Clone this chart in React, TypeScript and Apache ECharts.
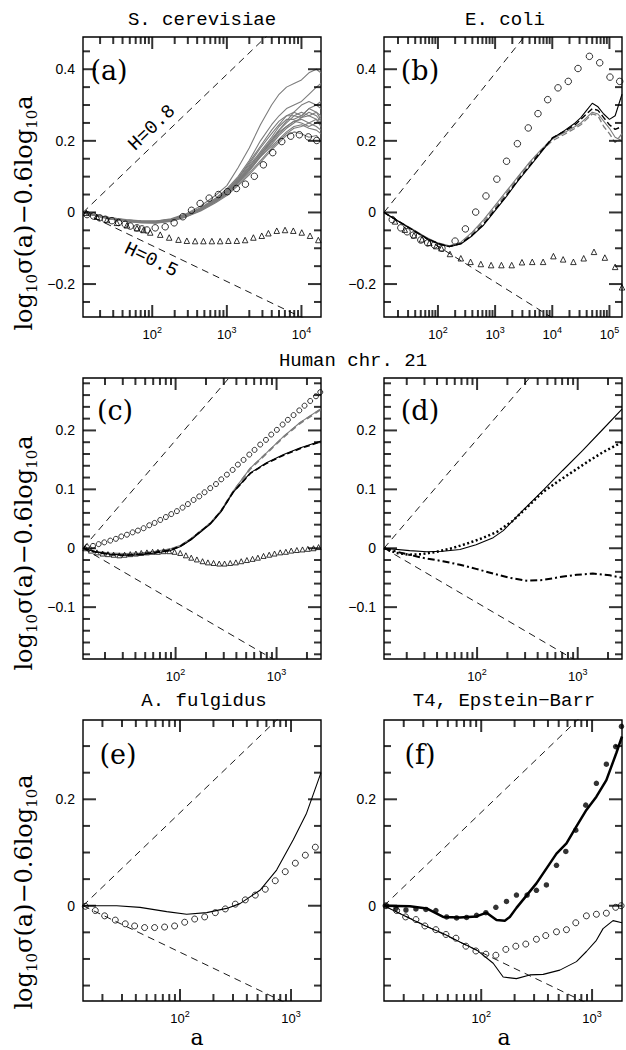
import React, { useEffect, useRef } from 'react';
import * as echarts from 'echarts';

// ---------------- layout ----------------
const GRIDS = [
  { left: 83, top: 37, width: 238, height: 280 },
  { left: 384, top: 37, width: 238, height: 280 },
  { left: 83, top: 378, width: 238, height: 281 },
  { left: 384, top: 378, width: 238, height: 281 },
  { left: 83, top: 720, width: 238, height: 281 },
  { left: 384, top: 720, width: 238, height: 281 },
];

// x axes are log10(a)
const X_RANGES = [[1.072, 4.262], [1.056, 5.22], [1.083, 3.44], [1.075, 3.44], [1.126, 3.27], [1.123, 3.27]];
const Y_RANGES = [[-0.292, 0.49], [-0.292, 0.49], [-0.188, 0.289], [-0.188, 0.289], [-0.179, 0.349], [-0.179, 0.349]];
const Y_MAJOR = [[-0.2, 0, 0.2, 0.4], [-0.2, 0, 0.2, 0.4], [-0.1, 0, 0.1, 0.2], [-0.1, 0, 0.1, 0.2], [0, 0.2], [0, 0.2]];
const Y_MINOR_STEP = [0.05, 0.05, 0.02, 0.02, 0.05, 0.05];

const PANEL_TITLES = ['S. cerevisiae', 'E. coli', 'Human chr. 21', 'A. fulgidus', 'T4, Epstein\u2212Barr'];
const PANEL_LETTERS = ['(a)', '(b)', '(c)', '(d)', '(e)', '(f)'];
const HURST = [0.8, 0.5];

// ---------------- data: [log10 a, log10 sigma - 0.6 log10 a] ----------------
// (a) S. cerevisiae chromosomes (grey)
const xGridA = [1.072, 1.25, 1.45, 1.65, 1.85, 2.05, 2.25, 2.45, 2.65, 2.85, 3.0, 3.15, 3.3, 3.45, 3.6, 3.7, 3.8, 3.9, 4.0, 4.1, 4.2, 4.26];
const chromA = [
  [0, -0.008, -0.016, -0.021, -0.024, -0.024, -0.018, -0.004, 0.018, 0.048, 0.075, 0.125, 0.18, 0.245, 0.3, 0.33, 0.35, 0.36, 0.37, 0.39, 0.4, 0.39],
  [0, -0.009, -0.017, -0.023, -0.026, -0.026, -0.02, -0.006, 0.013, 0.04, 0.066, 0.1, 0.145, 0.2, 0.245, 0.27, 0.29, 0.3, 0.31, 0.33, 0.35, 0.36],
  [0, -0.008, -0.015, -0.02, -0.023, -0.024, -0.019, -0.007, 0.012, 0.038, 0.062, 0.095, 0.135, 0.18, 0.22, 0.245, 0.27, 0.28, 0.27, 0.29, 0.3, 0.31],
  [0, -0.01, -0.018, -0.024, -0.027, -0.028, -0.022, -0.01, 0.008, 0.032, 0.056, 0.088, 0.125, 0.165, 0.205, 0.23, 0.25, 0.27, 0.28, 0.27, 0.28, 0.27],
  [0, -0.009, -0.016, -0.022, -0.025, -0.026, -0.021, -0.008, 0.01, 0.036, 0.06, 0.092, 0.13, 0.17, 0.21, 0.24, 0.26, 0.26, 0.27, 0.29, 0.28, 0.26],
  [0, -0.008, -0.015, -0.021, -0.024, -0.025, -0.02, -0.008, 0.01, 0.035, 0.058, 0.09, 0.125, 0.165, 0.2, 0.225, 0.24, 0.255, 0.26, 0.25, 0.26, 0.25],
  [0, -0.01, -0.019, -0.025, -0.028, -0.029, -0.024, -0.012, 0.006, 0.03, 0.052, 0.082, 0.115, 0.155, 0.19, 0.215, 0.235, 0.25, 0.265, 0.27, 0.26, 0.24],
  [0, -0.009, -0.017, -0.023, -0.026, -0.027, -0.022, -0.01, 0.008, 0.033, 0.055, 0.085, 0.12, 0.16, 0.195, 0.22, 0.24, 0.255, 0.25, 0.24, 0.25, 0.27],
  [0, -0.008, -0.016, -0.022, -0.025, -0.026, -0.021, -0.009, 0.009, 0.034, 0.057, 0.087, 0.12, 0.155, 0.185, 0.205, 0.225, 0.24, 0.245, 0.235, 0.23, 0.22],
  [0, -0.009, -0.018, -0.024, -0.027, -0.028, -0.023, -0.011, 0.006, 0.03, 0.05, 0.078, 0.11, 0.145, 0.18, 0.2, 0.22, 0.235, 0.24, 0.25, 0.24, 0.23],
  [0, -0.01, -0.019, -0.025, -0.029, -0.03, -0.025, -0.013, 0.004, 0.027, 0.047, 0.075, 0.105, 0.14, 0.175, 0.195, 0.215, 0.225, 0.22, 0.21, 0.215, 0.2],
  [0, -0.008, -0.016, -0.022, -0.026, -0.027, -0.022, -0.01, 0.008, 0.032, 0.054, 0.084, 0.118, 0.158, 0.2, 0.23, 0.255, 0.28, 0.3, 0.31, 0.3, 0.29],
  [0, -0.009, -0.017, -0.023, -0.026, -0.026, -0.02, -0.007, 0.012, 0.038, 0.062, 0.095, 0.14, 0.185, 0.23, 0.255, 0.27, 0.27, 0.265, 0.28, 0.27, 0.255],
];
const circlesA = [[1.126, -0.006], [1.214, -0.01], [1.294, -0.015], [1.37, -0.019], [1.46, -0.023], [1.548, -0.028], [1.638, -0.033], [1.705, -0.038], [1.795, -0.043], [1.862, -0.046], [1.929, -0.049], [2.04, -0.043], [2.174, -0.04], [2.294, -0.029], [2.411, -0.012], [2.526, 0.006], [2.642, 0.025], [2.763, 0.04], [2.887, 0.05], [3.008, 0.058], [3.128, 0.067], [3.249, 0.079], [3.369, 0.101], [3.49, 0.133], [3.615, 0.167], [3.736, 0.198], [3.856, 0.213], [3.972, 0.217], [4.092, 0.211], [4.205, 0.201]];
const trianglesA = [[1.116, -0.001], [1.259, -0.012], [1.393, -0.021], [1.527, -0.029], [1.661, -0.036], [1.795, -0.044], [1.883, -0.049], [1.973, -0.056], [2.107, -0.062], [2.227, -0.07], [2.352, -0.076], [2.464, -0.079], [2.575, -0.08], [2.686, -0.08], [2.799, -0.08], [2.91, -0.08], [3.021, -0.079], [3.134, -0.079], [3.245, -0.077], [3.356, -0.07], [3.468, -0.065], [3.557, -0.058], [3.669, -0.051], [3.78, -0.049], [3.891, -0.051], [4.004, -0.056], [4.115, -0.065], [4.226, -0.077]];

// (b) E. coli
const xGridB = [1.056, 1.3, 1.55, 1.8, 2.0, 2.2, 2.4, 2.6, 2.8, 3.0, 3.2, 3.4, 3.6, 3.8, 4.0, 4.2, 4.4, 4.5, 4.6, 4.7, 4.8, 4.9, 5.0, 5.1, 5.22];
const blackB = [0, -0.024, -0.048, -0.072, -0.087, -0.096, -0.088, -0.065, -0.035, 0.005, 0.045, 0.088, 0.127, 0.167, 0.207, 0.227, 0.25, 0.265, 0.285, 0.305, 0.295, 0.275, 0.26, 0.27, 0.33];
const blackDashB = [0, -0.024, -0.048, -0.072, -0.087, -0.095, -0.087, -0.063, -0.032, 0.008, 0.048, 0.091, 0.13, 0.17, 0.208, 0.226, 0.245, 0.26, 0.275, 0.29, 0.285, 0.265, 0.245, 0.232, 0.24];
const greyB = [0, -0.023, -0.046, -0.07, -0.085, -0.093, -0.083, -0.055, -0.02, 0.02, 0.06, 0.1, 0.14, 0.175, 0.205, 0.222, 0.24, 0.25, 0.265, 0.28, 0.275, 0.255, 0.235, 0.21, 0.2];
const greyDashB = [0, -0.024, -0.047, -0.071, -0.086, -0.094, -0.085, -0.058, -0.025, 0.014, 0.055, 0.097, 0.137, 0.172, 0.2, 0.217, 0.235, 0.245, 0.26, 0.275, 0.27, 0.24, 0.22, 0.195, 0.22];
const circlesB = [[1.2, -0.02], [1.35, -0.043], [1.46, -0.054], [1.57, -0.063], [1.7, -0.077], [1.82, -0.085], [1.94, -0.091], [2.07, -0.1], [2.3, -0.08], [2.48, -0.046], [2.66, 0.001], [2.84, 0.046], [3.03, 0.093], [3.2, 0.143], [3.39, 0.192], [3.58, 0.236], [3.75, 0.276], [3.92, 0.315], [4.1, 0.348], [4.28, 0.366], [4.45, 0.402], [4.65, 0.436], [4.83, 0.418], [5.01, 0.378], [5.18, 0.366]];
const trianglesB = [[1.25, -0.025], [1.42, -0.048], [1.58, -0.064], [1.72, -0.075], [1.85, -0.085], [1.97, -0.094], [2.06, -0.1], [2.21, -0.116], [2.4, -0.128], [2.57, -0.138], [2.75, -0.144], [2.93, -0.147], [3.11, -0.147], [3.29, -0.147], [3.47, -0.139], [3.65, -0.138], [3.84, -0.138], [4.02, -0.122], [4.19, -0.131], [4.37, -0.138], [4.55, -0.128], [4.73, -0.11], [4.92, -0.126], [5.1, -0.152], [5.22, -0.209]];

// (c) Human chr. 21
const xGridC = [1.083, 1.2, 1.35, 1.5, 1.65, 1.8, 1.95, 2.05, 2.15, 2.25, 2.35, 2.45, 2.57, 2.74, 2.9, 3.07, 3.23, 3.44];
const blackC = [0, -0.006, -0.01, -0.012, -0.011, -0.008, -0.004, 0.003, 0.014, 0.028, 0.042, 0.062, 0.095, 0.128, 0.145, 0.159, 0.17, 0.182];
const blackDashC = [0, -0.006, -0.011, -0.012, -0.01, -0.007, -0.003, 0.004, 0.015, 0.029, 0.043, 0.063, 0.095, 0.127, 0.144, 0.158, 0.169, 0.181];
const greyC = [0, -0.005, -0.008, -0.009, -0.008, -0.005, -0.001, 0.005, 0.016, 0.03, 0.044, 0.064, 0.097, 0.136, 0.162, 0.19, 0.213, 0.237];
const greyDashC = [0, -0.006, -0.009, -0.01, -0.009, -0.006, -0.002, 0.004, 0.015, 0.029, 0.043, 0.063, 0.096, 0.135, 0.161, 0.189, 0.212, 0.236];
const circlesC = [[1.122, 0.002], [1.182, 0.004], [1.238, 0.007], [1.294, 0.01], [1.353, 0.013], [1.409, 0.016], [1.462, 0.02], [1.518, 0.023], [1.574, 0.027], [1.627, 0.03], [1.683, 0.034], [1.739, 0.039], [1.792, 0.043], [1.848, 0.048], [1.904, 0.053], [1.957, 0.058], [2.013, 0.063], [2.069, 0.069], [2.122, 0.075], [2.178, 0.082], [2.234, 0.088], [2.287, 0.095], [2.343, 0.102], [2.4, 0.109], [2.452, 0.117], [2.508, 0.125], [2.565, 0.133], [2.617, 0.142], [2.673, 0.15], [2.73, 0.159], [2.782, 0.167], [2.838, 0.176], [2.895, 0.184], [2.947, 0.193], [3.003, 0.201], [3.06, 0.21], [3.112, 0.218], [3.168, 0.226], [3.225, 0.234], [3.277, 0.242], [3.333, 0.25], [3.39, 0.258], [3.433, 0.265]];
const trianglesC = [[1.106, 0], [1.162, -0.004], [1.221, -0.007], [1.277, -0.009], [1.33, -0.01], [1.386, -0.011], [1.442, -0.012], [1.495, -0.011], [1.551, -0.01], [1.607, -0.009], [1.66, -0.008], [1.716, -0.007], [1.772, -0.006], [1.825, -0.006], [1.881, -0.005], [1.937, -0.005], [1.99, -0.006], [2.046, -0.008], [2.102, -0.012], [2.155, -0.016], [2.211, -0.019], [2.267, -0.022], [2.32, -0.024], [2.376, -0.025], [2.432, -0.026], [2.485, -0.026], [2.541, -0.025], [2.597, -0.024], [2.65, -0.022], [2.706, -0.02], [2.762, -0.018], [2.815, -0.016], [2.871, -0.013], [2.927, -0.011], [2.98, -0.009], [3.036, -0.007], [3.092, -0.006], [3.145, -0.004], [3.201, -0.003], [3.257, -0.002], [3.31, -0.001], [3.366, 0.0], [3.416, 0.002]];

// (d) Human chr. 21, models
const solidD = [[1.075, 0], [1.33, -0.004], [1.5, -0.006], [1.66, -0.005], [1.83, -0.002], [1.99, 0.006], [2.16, 0.018], [2.26, 0.03], [2.46, 0.065], [2.66, 0.099], [2.85, 0.132], [3.05, 0.166], [3.25, 0.202], [3.44, 0.236]];
const dottedD = [[1.075, 0], [1.2, -0.008], [1.33, -0.011], [1.45, -0.01], [1.6, -0.006], [1.75, 0], [1.9, 0.008], [2.05, 0.017], [2.2, 0.028], [2.35, 0.046], [2.5, 0.07], [2.65, 0.095], [2.8, 0.113], [2.95, 0.13], [3.1, 0.147], [3.25, 0.163], [3.44, 0.18]];
const dashDotD = [[1.075, 0], [1.25, -0.008], [1.45, -0.016], [1.66, -0.022], [1.83, -0.028], [1.99, -0.035], [2.16, -0.043], [2.32, -0.05], [2.49, -0.055], [2.65, -0.054], [2.82, -0.049], [2.99, -0.045], [3.15, -0.043], [3.32, -0.046], [3.44, -0.05]];

// (e) A. fulgidus
const solidE = [[1.126, 0], [1.43, 0], [1.64, -0.003], [1.88, -0.011], [2.06, -0.016], [2.24, -0.013], [2.42, -0.005], [2.54, 0.004], [2.72, 0.029], [2.87, 0.067], [3.02, 0.124], [3.14, 0.174], [3.27, 0.25]];
const circlesE = [[1.147, -0.001], [1.237, -0.009], [1.321, -0.019], [1.417, -0.027], [1.507, -0.034], [1.591, -0.038], [1.681, -0.041], [1.771, -0.041], [1.861, -0.04], [1.951, -0.038], [2.042, -0.031], [2.132, -0.025], [2.222, -0.021], [2.318, -0.013], [2.408, -0.006], [2.498, 0.003], [2.588, 0.011], [2.678, 0.02], [2.768, 0.031], [2.858, 0.047], [2.948, 0.064], [3.039, 0.08], [3.129, 0.095], [3.219, 0.11]];

// (f) T4, Epstein-Barr
const dotsF = [[1.141, 0], [1.231, -0.005], [1.321, -0.008], [1.411, -0.006], [1.501, -0.007], [1.591, -0.009], [1.688, -0.021], [1.778, -0.023], [1.868, -0.022], [1.958, -0.018], [2.042, -0.013], [2.132, -0.003], [2.228, 0.008], [2.318, 0.02], [2.414, 0.02], [2.498, 0.029], [2.588, 0.039], [2.679, 0.076], [2.763, 0.102], [2.853, 0.142], [2.943, 0.189], [3.039, 0.23], [3.129, 0.266], [3.213, 0.299], [3.265, 0.337]];
const thickF = [[1.123, 0], [1.357, -0.001], [1.507, -0.005], [1.657, -0.021], [1.808, -0.022], [1.958, -0.02], [2.048, -0.013], [2.138, -0.027], [2.213, -0.028], [2.258, -0.021], [2.318, -0.004], [2.498, 0.042], [2.679, 0.098], [2.769, 0.117], [2.859, 0.149], [2.949, 0.18], [3.039, 0.205], [3.129, 0.236], [3.219, 0.287], [3.27, 0.318]];
const circlesF = [[1.141, 0], [1.237, -0.009], [1.318, -0.021], [1.411, -0.026], [1.492, -0.038], [1.591, -0.045], [1.682, -0.054], [1.772, -0.061], [1.862, -0.076], [1.952, -0.085], [2.042, -0.091], [2.132, -0.093], [2.222, -0.082], [2.312, -0.076], [2.402, -0.072], [2.498, -0.063], [2.582, -0.056], [2.679, -0.049], [2.769, -0.045], [2.853, -0.032], [2.949, -0.019], [3.039, -0.016], [3.129, -0.014], [3.213, -0.003], [3.262, 0]];
const thinF = [[1.123, 0], [1.357, -0.024], [1.507, -0.039], [1.657, -0.052], [1.808, -0.068], [1.958, -0.083], [2.108, -0.108], [2.198, -0.134], [2.318, -0.137], [2.438, -0.13], [2.559, -0.129], [2.709, -0.121], [2.859, -0.105], [2.949, -0.086], [3.039, -0.065], [3.099, -0.043], [3.189, -0.028], [3.27, -0.032]];

// ---------------- helpers ----------------
const SERIF = 'DejaVu Serif';
const MONO = 'Liberation Mono';
const SANS = 'Liberation Sans';
const GREY = '#7c7c7c';
const TICK_LEN = { xMajor: 12, xMinor: 7, yMajor: 13, yMinor: 7 };
const TICK_W = 2;

const zip = (xs: number[], ys: number[]) => xs.map((x, i) => [x, ys[i]]);

function line(g: number, data: any[], color: string, width: number, type: any = 'solid', z = 3) {
  return {
    type: 'line', xAxisIndex: g, yAxisIndex: g, data, symbol: 'none', showSymbol: false,
    clip: true, silent: true, z, emphasis: { disabled: true },
    lineStyle: { color, width, type, cap: 'butt' },
  };
}
function scatter(g: number, data: number[][], symbol: string, size: number, filled = false) {
  return {
    type: 'scatter', xAxisIndex: g, yAxisIndex: g, data, symbol, symbolSize: size,
    clip: true, silent: true, z: 5, emphasis: { disabled: true },
    itemStyle: filled ? { color: '#000' } : { color: 'none', borderColor: '#000', borderWidth: 1 },
  };
}
function guides(g: number) {
  const [x0, x1] = X_RANGES[g];
  return HURST.map((h) => line(g, [[x0, 0], [x1, (h - 0.6) * (x1 - x0)]], '#000', 0.9, [7, 5], 2));
}

function xTicks(g: number) {
  const [a, b] = X_RANGES[g];
  const major: number[] = [];
  const minor: number[] = [];
  for (let k = Math.floor(a); k <= Math.ceil(b); k++) {
    if (k >= a && k <= b) major.push(k);
    for (let m = 2; m <= 9; m++) {
      const v = k + Math.log10(m);
      if (v > a && v < b) minor.push(v);
    }
  }
  return { major, minor };
}
function yTicks(g: number) {
  const [a, b] = Y_RANGES[g];
  const step = Y_MINOR_STEP[g];
  const major = Y_MAJOR[g];
  const minor: number[] = [];
  for (let i = Math.ceil(a / step); i <= Math.floor(b / step); i++) {
    const v = Math.round(i * step * 1e6) / 1e6;
    if (!major.some((m) => Math.abs(m - v) < 1e-9)) minor.push(v);
  }
  return { major, minor };
}

// tick marks on the four sides of a frame, as thin rect symbols placed by the grid's scales
function tickSeries(g: number) {
  const [x0, x1] = X_RANGES[g];
  const [y0, y1] = Y_RANGES[g];
  const xt = xTicks(g);
  const yt = yTicks(g);
  const xs = [...xt.major.map((v) => [v, TICK_LEN.xMajor]), ...xt.minor.map((v) => [v, TICK_LEN.xMinor])];
  const ys = [...yt.major.map((v) => [v, TICK_LEN.yMajor]), ...yt.minor.map((v) => [v, TICK_LEN.yMinor])];
  const data: any[] = [];
  xs.forEach(([v, len]) => {
    data.push({ value: [v, y0], symbolSize: [TICK_W, len], symbolOffset: [0, -len / 2] });
    data.push({ value: [v, y1], symbolSize: [TICK_W, len], symbolOffset: [0, len / 2] });
  });
  ys.forEach(([v, len]) => {
    data.push({ value: [x0, v], symbolSize: [len, TICK_W], symbolOffset: [len / 2, 0] });
    data.push({ value: [x1, v], symbolSize: [len, TICK_W], symbolOffset: [-len / 2, 0] });
  });
  return {
    type: 'scatter', xAxisIndex: g, yAxisIndex: g, data, symbol: 'rect',
    clip: false, z: 8, itemStyle: { color: '#000' },
  };
}

function makeXAxis(g: number) {
  const { major } = xTicks(g);
  return {
    gridIndex: g, type: 'value', position: 'bottom', min: X_RANGES[g][0], max: X_RANGES[g][1],
    splitLine: { show: false }, axisLine: { show: false, onZero: false }, axisTick: { show: false },
    axisLabel: {
      show: true, customValues: major, margin: 8, color: '#000',
      formatter: (v: number) => `{b|10}{s|${Math.round(v)}}`,
      rich: {
        b: { fontSize: 13, fontFamily: SANS, color: '#000', lineHeight: 18 },
        s: { fontSize: 9, fontFamily: SANS, color: '#000', lineHeight: 9, verticalAlign: 'top' },
      },
    },
  };
}
function makeYAxis(g: number) {
  const { major } = yTicks(g);
  return {
    gridIndex: g, type: 'value', position: 'left', min: Y_RANGES[g][0], max: Y_RANGES[g][1],
    splitLine: { show: false }, axisLine: { show: false, onZero: false }, axisTick: { show: false },
    axisLabel: {
      show: true, customValues: major, margin: 8, color: '#000', fontSize: 14, fontFamily: SANS,
      formatter: (v: number) => (Math.abs(v) < 1e-9 ? '0' : (v < 0 ? '\u2212' : '') + String(Math.abs(v))),
    },
  };
}

function text(x: number, y: number, str: string, fontSize: number, fontFamily: string, rotation = 0, rich?: any) {
  return {
    type: 'text', x, y, rotation, silent: true, z: 10,
    style: {
      text: str, fontSize, fontFamily, fill: '#000',
      align: 'center', verticalAlign: 'middle', textAlign: 'center', textVerticalAlign: 'middle',
      ...(rich ? { rich } : {}),
    },
  };
}

function textElements() {
  const yLabelRich = {
    n: { fontSize: 24, fontFamily: SERIF, lineHeight: 30, fill: '#000' },
    s: { fontSize: 15, fontFamily: SERIF, lineHeight: 15, verticalAlign: 'bottom', fill: '#000' },
  };
  const yLabel = '{n|log}{s|10}{n|\u03c3(a)\u22120.6log}{s|10}{n|a}';
  return [
    text(202, 20, PANEL_TITLES[0], 19, MONO),
    text(505, 20, PANEL_TITLES[1], 19, MONO),
    text(353, 361, PANEL_TITLES[2], 19, MONO),
    text(204, 701, PANEL_TITLES[3], 19, MONO),
    text(504, 701, PANEL_TITLES[4], 19, MONO),
    text(109, 70, PANEL_LETTERS[0], 27, SERIF),
    text(420, 70, PANEL_LETTERS[1], 27, SERIF),
    text(115, 410, PANEL_LETTERS[2], 27, SERIF),
    text(420, 410, PANEL_LETTERS[3], 27, SERIF),
    text(118, 754, PANEL_LETTERS[4], 27, SERIF),
    text(420, 754, PANEL_LETTERS[5], 27, SERIF),
    text(152, 128, 'H=' + HURST[0], 19, MONO, 0.765),
    text(151, 260, 'H=' + HURST[1], 19, MONO, -0.447),
    text(24, 213, yLabel, 24, SERIF, Math.PI / 2, yLabelRich),
    text(24, 553, yLabel, 24, SERIF, Math.PI / 2, yLabelRich),
    text(24, 892, yLabel, 24, SERIF, Math.PI / 2, yLabelRich),
    text(197, 1037, 'a', 22, SERIF),
    text(504, 1037, 'a', 22, SERIF),
  ];
}

function buildOption() {
  const grid = GRIDS.map((g) => ({ ...g, show: true, borderColor: '#000', borderWidth: 1.4, backgroundColor: 'transparent' }));
  const xAxis = GRIDS.map((_, g) => makeXAxis(g));
  const yAxis = GRIDS.map((_, g) => makeYAxis(g));

  const series: any[] = [];
  // frame ticks first
  GRIDS.forEach((_, g) => series.push(tickSeries(g)));
  // (a)
  series.push(...guides(0));
  chromA.forEach((ys) => series.push(line(0, zip(xGridA, ys), GREY, 1.1)));
  series.push(scatter(0, circlesA, 'circle', 6.5));
  series.push(scatter(0, trianglesA, 'triangle', 5.5));
  // (b)
  series.push(...guides(1));
  series.push(line(1, zip(xGridB, greyB), GREY, 1.1));
  series.push(line(1, zip(xGridB, greyDashB), GREY, 1.3, [6, 3]));
  series.push(line(1, zip(xGridB, blackB), '#000', 1.1));
  series.push(line(1, zip(xGridB, blackDashB), '#000', 1.4, [6, 3]));
  series.push(scatter(1, circlesB, 'circle', 6.5));
  series.push(scatter(1, trianglesB, 'triangle', 5.5));
  // (c)
  series.push(...guides(2));
  series.push(line(2, zip(xGridC, greyC), GREY, 1.1));
  series.push(line(2, zip(xGridC, greyDashC), GREY, 2, [6, 4]));
  series.push(line(2, zip(xGridC, blackC), '#000', 1.1));
  series.push(line(2, zip(xGridC, blackDashC), '#000', 1.6, [6, 3]));
  series.push(scatter(2, circlesC, 'circle', 5));
  series.push(scatter(2, trianglesC, 'triangle', 5));
  // (d)
  series.push(...guides(3));
  series.push(line(3, solidD, '#000', 1.1));
  series.push(line(3, dottedD, '#000', 2.5, [2, 2.5]));
  series.push(line(3, dashDotD, '#000', 2, [7, 3, 2, 3]));
  // (e)
  series.push(...guides(4));
  series.push(line(4, solidE, '#000', 1.1));
  series.push(scatter(4, circlesE, 'circle', 6));
  // (f)
  series.push(...guides(5));
  series.push(line(5, thinF, '#000', 1.1));
  series.push(line(5, thickF, '#000', 2.5));
  series.push(scatter(5, circlesF, 'circle', 6));
  series.push(scatter(5, dotsF, 'circle', 5.5, true));

  return {
    animation: false,
    backgroundColor: '#fff',
    grid,
    xAxis,
    yAxis,
    series,
    graphic: { elements: textElements() },
  };
}

export default function App() {
  const ref = useRef<HTMLDivElement>(null);
  useEffect(() => {
    if (!ref.current) return;
    const chart = echarts.init(ref.current, null, { renderer: 'svg' });
    chart.setOption(buildOption() as any);
    return () => chart.dispose();
  }, []);
  return <div ref={ref} style={{ position: 'absolute', left: 0, top: 0, width: 626, height: 1050, background: '#fff' }} />;
}
